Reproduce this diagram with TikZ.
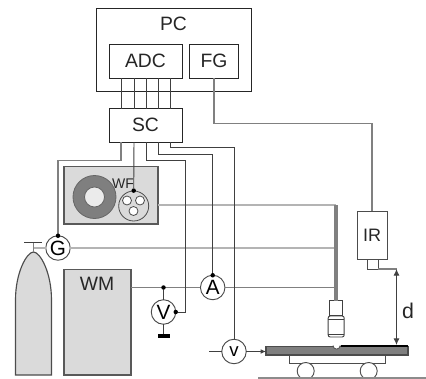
\documentclass[tikz,border=0pt]{standalone}
\usepackage{fontspec}
\setmainfont{Liberation Sans}
\usetikzlibrary{arrows.meta}
\definecolor{fillg}{HTML}{DADADA}
\definecolor{ringg}{HTML}{7F7F7F}
\definecolor{wiredark}{HTML}{404040}
\definecolor{wiremid}{HTML}{808080}
\definecolor{wirelight}{HTML}{B4B4B4}
\def\u{0.75pt}
\tikzset{
  pxbox/.style={draw=black!85,line width=0.7pt,inner sep=0,outer sep=0,fill=white},
  gbox/.style={draw=black!65,line width=1pt,inner sep=0,outer sep=0,fill=fillg},
  meter/.style={draw=black!70,circle,line width=0.7pt,fill=white,inner sep=0,outer sep=0,minimum size=24.5*\u,font=\fontsize{15.5}{15.5}\selectfont},
  lab/.style={inner sep=0,font=\fontsize{14.5}{14.5}\selectfont,text=black!85},
  wire/.style={draw=wiredark,line width=0.7pt},
  gwire/.style={draw=wiremid,line width=0.8pt},
  lwire/.style={draw=wirelight,line width=0.85pt},
  pin/.style={circle,fill=black,inner sep=0,minimum size=4.5*\u},
}
\begin{document}
\begin{tikzpicture}[x=0.75pt,y=-0.75pt]
\useasboundingbox (0,0) rectangle (426,379);
% named positions
\coordinate (a1) at (121,78);
\coordinate (a2) at (134,78);
\coordinate (a3) at (146,78);
\coordinate (a4) at (158,78);
\coordinate (a5) at (170,78);
% boxes
\node[pxbox,minimum width=154.5*\u,minimum height=83*\u] (pc) at (173.75,50) {};
\node[lab] (pclab) at (173.5,24) {PC};
\node[pxbox,minimum width=73*\u,minimum height=33.5*\u] (adc) at (145.5,61.25) {};
\node[lab] (adclab) at (145.5,61) {ADC};
\node[pxbox,minimum width=49*\u,minimum height=33.5*\u] (fg) at (214,61.25) {};
\node[lab] (fglab) at (214,60.5) {FG};
\node[pxbox,minimum width=73*\u,minimum height=33.5*\u] (sc) at (145.5,125.25) {};
\node[lab] (sclab) at (145.5,125) {SC};
% ADC - SC
\foreach \c in {a1,a2,a3,a4,a5} \draw[wire] (\c) -- (\c |- sc.north);
% gas bottle
\path[fill=fillg,draw=black!70,line width=0.85pt] (15.5,375) -- (15.5,300) .. controls (15.5,272) and (27,252) .. (33.5,252) .. controls (40,252) and (51.5,272) .. (51.5,300) -- (51.5,375) -- cycle;
\coordinate (bottle) at (33.5,252);
\coordinate (bartop) at (33.5,242.5);
\draw[gwire] (bottle) -- (bartop);
\draw[wire] (24,242.5) -- (42,242.5);
% WM
\node[gbox,minimum width=67*\u,minimum height=105.5*\u] (wm) at (97.5,322.25) {};
\node[lab] (wmlab) at (97,284) {WM};
% feeder panel
\node[gbox,minimum width=94*\u,minimum height=57.5*\u] (panel) at (111,195.25) {};
\node[circle,draw=black!60,line width=0.6pt,fill=ringg,inner sep=0,minimum size=43*\u] (ring) at (94.5,197) {};
\node[circle,draw=black!60,line width=0.6pt,fill=white!92!black,inner sep=0,minimum size=20*\u] (ringin) at (94.5,197) {};
\node[circle,draw=black!70,line width=0.6pt,fill=fillg,inner sep=0,minimum size=30*\u] (wf) at (133.7,206) {};
\foreach \n/\p in {h1/{(127,200.5)},h2/{(140,200.5)},h3/{(133.5,211)}}
  \node[circle,draw=black!70,line width=0.6pt,fill=white,inner sep=0,minimum size=9*\u] (\n) at \p {};
\node[inner sep=0,font=\fontsize{10.5}{10.5}\selectfont,text=black!85] (wflab) at (123,184) {WF};
% meters
\node[meter] (g) at (58,248) {G};
\node[meter] (v1) at (163.5,312) {V};
\node[meter] (am) at (212.7,287.5) {A};
\node[meter,font=\fontsize{14}{14}\selectfont] (v2) at (234,351.5) {v};
% IR
\node[pxbox,draw=black!70,minimum width=30*\u,minimum height=48*\u] (ir) at (372,235) {};
\node[lab,font=\fontsize{13.5}{13.5}\selectfont] (irlab) at (372,235) {IR};
\node[pxbox,draw=black!70,minimum width=11*\u,minimum height=10*\u] (nub) at (372.5,264) {};
% table
\node[gbox,fill=ringg,draw=black!70,minimum width=142*\u,minimum height=8.5*\u] (table) at (337,350.7) {};
\node[pxbox,draw=black!70,minimum width=96*\u,minimum height=8*\u] (cart) at (337,359) {};
\node[circle,draw=black!70,line width=0.7pt,fill=white,inner sep=0,minimum size=17*\u] (w1) at (305.7,371) {};
\node[circle,draw=black!70,line width=0.7pt,fill=white,inner sep=0,minimum size=17*\u] (w2) at (368.7,371) {};
\coordinate (gl) at (258,378);
\coordinate (gr) at (426,378);
\draw[draw=black!45,line width=1.2pt] (gl) -- (gr);
\coordinate (sl) at (340.7,345.7);
\coordinate (sr) at (408,345.7);
\draw[black,line width=1.4pt] (sl) -- (sr);
% torch
\coordinate (tubetop) at (336,205);
\node[pxbox,draw=black!75,minimum width=13.5*\u,minimum height=15*\u] (tup) at (336,308) {};
\node[pxbox,draw=black!75,rounded corners=1.5pt,minimum width=16*\u,minimum height=21*\u] (tlow) at (336.2,326.5) {};
\draw[black!75,line width=0.7pt] (328.2,319) -- (344.2,319) (328.2,334) -- (344.2,334);
\draw[black!70,line width=0.6pt,fill=white] (333,345.5) arc[start angle=180,end angle=0,radius=3.6];
% gas, wire, current lines
\coordinate (wfe) at (panel.east |- 0,205);
\draw[lwire] (wfe) -- (tubetop);
\coordinate (tubeg) at (336,248);
\coordinate (tubea) at (336,287.5);
\draw[lwire] (bottle |- g) -- (g.west);
\draw[lwire] (g.east) -- (tubeg);
\draw[gwire] (wm.east |- am) -- (am.west);
\draw[gwire] (am.east) -- (tubea);
\draw[draw=black!50,line width=2.4pt] (tubetop) -- (tup.north);
% SC outputs
\coordinate (gc) at (58,160.7);
\coordinate (a1b) at (121,160.7);
\draw[gwire] (a1 |- sc.south) -- (a1b) -- (gc) -- (g.north);
\node[pin] (pg) at (g.north) {};
\node[pin] (pwf) at (wf.north) {};
\draw[wire] (a2 |- sc.south) -- (pwf);
\coordinate (c3a) at (146,160.7);
\coordinate (c3b) at (185.5,160.7);
\node[pin] (pv1) at (v1.east) {};
\draw[wire] (a3 |- sc.south) -- (c3a) -- (c3b) -- (c3b |- pv1) -- (pv1);
\coordinate (c4a) at (158,154);
\coordinate (c4b) at (212.7,154);
\node[pin] (pam) at (am.north) {};
\draw[wire] (a4 |- sc.south) -- (c4a) -- (c4b) -- (pam);
\coordinate (c5a) at (170,147.5);
\coordinate (c5b) at (234,147.5);
\draw[wire] (a5 |- sc.south) -- (c5a) -- (c5b) -- (v2.north);
% voltmeter 1
\node[pin] (pwm) at (v1 |- am) {};
\draw[wire] (pwm) -- (v1.north);
\node[fill=black,inner sep=0,minimum width=12*\u,minimum height=4*\u] (earth) at (163.5,336) {};
\draw[wire] (v1.south) -- (earth.north);
% table voltmeter
\coordinate (vin) at (209,351.5);
\draw[wire] (vin) -- (v2.west);
\draw[wire,-{Latex[length=4pt,width=3.5pt]}] (v2.east) -- (table.west |- v2);
% FG - IR
\coordinate (fgb) at (214,123.5);
\coordinate (fgc) at (372,123.5);
\draw[gwire] (fg.south) -- (fgb) -- (fgc) -- (ir.north);
% distance
\coordinate (dt) at (396.5,269);
\coordinate (db) at (396.5,345);
\draw[gwire] (nub.east) ++(0,5) -- (dt);
\draw[wire,{Latex[length=5pt,width=4.5pt]}-{Latex[length=5pt,width=4.5pt]}] (dt) -- (db);
\node[lab,font=\fontsize{16}{16}\selectfont] (dlab) at (408,311) {d};
\end{tikzpicture}
\end{document}
